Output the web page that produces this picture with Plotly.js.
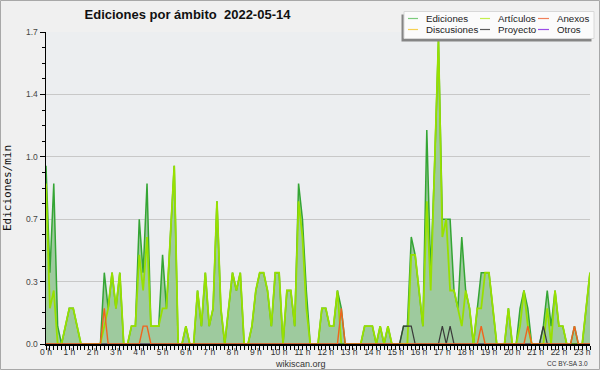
<!DOCTYPE html>
<html>
<head>
<meta charset="utf-8">
<script src="https://cdn.plot.ly/plotly-3.0.1.min.js"></script>
<style>
  html, body { margin: 0; padding: 0; background: #f0f0f0; }
  #chart { width: 600px; height: 370px; }
</style>
</head>
<body>
<div id="chart"></div>
<script>
// Samples every 10 minutes from 00:00 to 23:20 (hours on x axis)
const startHour = 0;
const stepHours = 1 / 6;

const ediciones = [
  1.0, 0.4, 0.9, 0.1, 0, 0.1, 0.2, 0.2, 0.1, 0,
  0, 0, 0, 0, 0, 0.4, 0.2, 0.4, 0.2, 0.4,
  0, 0, 0.1, 0.1, 0.7, 0.4, 0.9, 0.1, 0.1, 0.1,
  0.5, 0.2, 0.6, 1.0, 0, 0, 0.1, 0, 0, 0.3,
  0.1, 0.4, 0.1, 0.2, 0.8, 0.2, 0, 0.2, 0.4, 0.3,
  0.4, 0, 0, 0.1, 0.3, 0.4, 0.4, 0.3, 0.1, 0.4,
  0.4, 0, 0.3, 0.3, 0.1, 0.9, 0.7, 0.3, 0, 0,
  0, 0.2, 0.2, 0.1, 0.1, 0.3, 0.2, 0, 0, 0,
  0, 0, 0.1, 0.1, 0.1, 0, 0.1, 0, 0.1, 0,
  0, 0, 0.1, 0.1, 0.6, 0.5, 0.3, 0.1, 1.2, 0.4,
  1.0, 1.7, 0.7, 0.7, 0.7, 0.3, 0.2, 0.6, 0.3, 0.2,
  0, 0.2, 0.4, 0.4, 0.4, 0.2, 0, 0, 0, 0.2,
  0, 0, 0.2, 0.3, 0.2, 0, 0, 0, 0.1, 0.3,
  0.1, 0.3, 0.1, 0.1, 0, 0, 0.1, 0, 0, 0.2,
  0.4
];

const articulos = [
  0.9, 0.2, 0.3, 0, 0, 0.1, 0.2, 0.2, 0.1, 0,
  0, 0, 0, 0, 0, 0.1, 0.2, 0.4, 0.2, 0.4,
  0, 0, 0.1, 0.1, 0.5, 0.3, 0.6, 0.1, 0.1, 0.1,
  0.2, 0.2, 0.6, 1.0, 0, 0, 0.1, 0, 0, 0.3,
  0.1, 0.4, 0.1, 0.2, 0.8, 0.2, 0, 0.2, 0.4, 0.3,
  0.4, 0, 0, 0.1, 0.3, 0.4, 0.4, 0.3, 0.1, 0.4,
  0.4, 0, 0.3, 0.3, 0.1, 0.8, 0.6, 0.2, 0, 0,
  0, 0.2, 0.2, 0.1, 0.1, 0.3, 0, 0, 0, 0,
  0, 0, 0.1, 0.1, 0.1, 0, 0.1, 0, 0.1, 0,
  0, 0, 0, 0, 0.5, 0.5, 0.3, 0.1, 0.8, 0.3,
  1.0, 1.7, 0.6, 0.7, 0.3, 0.3, 0.2, 0.1, 0.3, 0.2,
  0, 0.2, 0.2, 0.4, 0.4, 0.2, 0, 0, 0, 0.2,
  0, 0, 0.1, 0.3, 0.1, 0, 0, 0, 0, 0.2,
  0, 0.3, 0.1, 0.1, 0, 0, 0, 0, 0, 0.2,
  0.4
];

const anexos = [
  0, 0, 0, 0, 0, 0, 0, 0, 0, 0,
  0, 0, 0, 0, 0, 0.2, 0, 0, 0, 0,
  0, 0, 0, 0, 0, 0.1, 0.1, 0, 0, 0,
  0, 0, 0, 0, 0, 0, 0, 0, 0, 0,
  0, 0, 0, 0, 0, 0, 0, 0, 0, 0,
  0, 0, 0, 0, 0, 0, 0, 0, 0, 0,
  0, 0, 0, 0, 0, 0, 0, 0, 0, 0,
  0, 0, 0, 0, 0, 0, 0.2, 0, 0, 0,
  0, 0, 0, 0, 0, 0, 0, 0, 0, 0,
  0, 0, 0, 0, 0, 0, 0, 0, 0, 0,
  0, 0, 0, 0, 0, 0, 0, 0, 0, 0,
  0, 0, 0.1, 0, 0, 0, 0, 0, 0, 0,
  0, 0, 0, 0, 0.1, 0, 0, 0, 0, 0,
  0, 0, 0, 0, 0, 0, 0.1, 0, 0, 0,
  0
];

const discusiones = [
  0, 0, 0, 0, 0, 0, 0, 0, 0, 0,
  0, 0, 0, 0, 0, 0, 0, 0, 0, 0,
  0, 0, 0, 0, 0, 0, 0, 0, 0, 0,
  0, 0, 0, 0, 0, 0, 0, 0, 0, 0,
  0, 0, 0, 0, 0, 0, 0, 0, 0, 0,
  0, 0, 0, 0, 0, 0, 0, 0, 0, 0,
  0, 0, 0, 0, 0, 0, 0, 0, 0, 0,
  0, 0, 0, 0, 0, 0, 0, 0, 0, 0,
  0, 0, 0, 0, 0, 0, 0, 0, 0, 0,
  0, 0, 0, 0, 0, 0, 0, 0, 0, 0,
  0, 0, 0, 0, 0, 0, 0, 0, 0, 0,
  0, 0, 0, 0, 0, 0, 0, 0, 0, 0,
  0, 0, 0, 0, 0, 0, 0, 0, 0, 0,
  0, 0, 0, 0, 0, 0, 0, 0, 0, 0,
  0
];

const proyecto = [
  0, 0, 0, 0, 0, 0, 0, 0, 0, 0,
  0, 0, 0, 0, 0, 0, 0, 0, 0, 0,
  0, 0, 0, 0, 0, 0, 0, 0, 0, 0,
  0, 0, 0, 0, 0, 0, 0, 0, 0, 0,
  0, 0, 0, 0, 0, 0, 0, 0, 0, 0,
  0, 0, 0, 0, 0, 0, 0, 0, 0, 0,
  0, 0, 0, 0, 0, 0, 0, 0, 0, 0,
  0, 0, 0, 0, 0, 0, 0, 0, 0, 0,
  0, 0, 0, 0, 0, 0, 0, 0, 0, 0,
  0, 0, 0.1, 0.1, 0.1, 0, 0, 0, 0, 0,
  0, 0, 0.1, 0, 0.1, 0, 0, 0, 0, 0,
  0, 0, 0, 0, 0, 0, 0, 0, 0, 0,
  0, 0, 0, 0, 0, 0, 0, 0, 0.1, 0,
  0, 0, 0, 0, 0, 0, 0, 0, 0, 0,
  0
];

const otros = [
  0, 0, 0, 0, 0, 0, 0, 0, 0, 0,
  0, 0, 0, 0, 0, 0, 0, 0, 0, 0,
  0, 0, 0, 0, 0, 0, 0, 0, 0, 0,
  0, 0, 0, 0, 0, 0, 0, 0, 0, 0,
  0, 0, 0, 0, 0, 0, 0, 0, 0, 0,
  0, 0, 0, 0, 0, 0, 0, 0, 0, 0,
  0, 0, 0, 0, 0, 0, 0, 0, 0, 0,
  0, 0, 0, 0, 0, 0, 0, 0, 0, 0,
  0, 0, 0, 0, 0, 0, 0, 0, 0, 0,
  0, 0, 0, 0, 0, 0, 0, 0, 0, 0,
  0, 0, 0, 0, 0, 0, 0, 0, 0, 0,
  0, 0, 0, 0, 0, 0, 0, 0, 0, 0,
  0, 0, 0, 0, 0, 0, 0, 0, 0, 0,
  0, 0, 0, 0, 0, 0, 0, 0, 0, 0,
  0
];

const yTickVals = [0, 0.35, 0.7, 1.05, 1.4, 1.75];
const yTickText = ['0.0', '0.3', '0.7', '1.0', '1.4', '1.7'];

const legendNames = ['Ediciones', 'Artículos', 'Anexos', 'Discusiones', 'Proyecto', 'Otros'];
const legendColors = ['#7ccb7c', '#c4ee4e', '#f0805a', '#f6d052', '#5a5a5a', '#9a4de6'];

// ---- layout helpers (pixel -> paper) ----
const M = {l: 46, r: 10, t: 32, b: 26};
const W = 600, H = 370;
const PW = W - M.l - M.r, PH = H - M.t - M.b;
const px = x => (x - M.l) / PW;
const py = y => (H - M.b - y) / PH;

function line(y, color, width) {
  return {type: 'scatter', mode: 'lines', x0: startHour, dx: stepHours, y: y,
          line: {color: color, width: width, shape: 'linear'}, hoverinfo: 'skip', showlegend: false};
}

const traces = [
  Object.assign(line(ediciones, '#34a534', 1.5), {fill: 'tozeroy', fillcolor: 'rgb(158,202,158)'}),
  line(discusiones, '#f2c200', 1),
  line(otros, '#8a3be0', 1),
  line(articulos, '#98e000', 1.8),
  line(proyecto, '#3a3a3a', 1.2),
  line(anexos, '#f0641e', 1.4)
];

const shapes = [
  // outer frame
  {type: 'rect', xref: 'paper', yref: 'paper', x0: px(0.5), x1: px(599.5), y0: py(369.5), y1: py(0.5),
   line: {color: '#a8a8a8', width: 1}, fillcolor: 'rgba(0,0,0,0)', layer: 'below'},
  // legend shadow & box
  {type: 'rect', xref: 'paper', yref: 'paper', x0: px(401.5), x1: px(591.5), y0: py(41.5), y1: py(14.5),
   line: {width: 0}, fillcolor: '#858585'},
  {type: 'rect', xref: 'paper', yref: 'paper', x0: px(404), x1: px(594), y0: py(38.5), y1: py(11.5),
   line: {color: '#d8d8d8', width: 1}, fillcolor: '#fbfbfb'}
];
const annotations = [
  {text: 'wikiscan.org', xref: 'paper', yref: 'paper', x: px(300), y: py(363.5), xanchor: 'center', yanchor: 'middle',
   showarrow: false, font: {family: 'Liberation Sans', size: 9, color: '#333'}},
  {text: 'CC BY-SA 3.0', xref: 'paper', yref: 'paper', x: px(590), y: py(363.5), xanchor: 'right', yanchor: 'middle',
   showarrow: false, font: {family: 'Liberation Sans', size: 6.5, color: '#333'}}
];
const colX = [[408, 418, 424], [480, 490, 496], [538, 549, 555]];
const rowY = [18.5, 29.5];
legendNames.forEach((name, k) => {
  const c = colX[k % 3], r = rowY[Math.floor(k / 3)];
  shapes.push({type: 'line', xref: 'paper', yref: 'paper', x0: px(c[0]), x1: px(c[1]), y0: py(r), y1: py(r),
               line: {color: legendColors[k], width: 1.2}});
  annotations.push({text: name, xref: 'paper', yref: 'paper', x: px(c[2]), y: py(r), xanchor: 'left', yanchor: 'middle',
                    showarrow: false, font: {family: 'Liberation Sans', size: 9.7, color: '#222'}});
});

const layout = {
  width: W, height: H,
  margin: M,
  paper_bgcolor: '#f0f0f0',
  plot_bgcolor: '#eceef0',
  showlegend: false,
  title: {text: '<b>Ediciones por ámbito\u00a0\u00a02022-05-14</b>', x: 0.3125, xref: 'container', xanchor: 'center',
          y: 1 - 14 / H, yref: 'container', yanchor: 'middle',
          font: {family: 'Liberation Sans', size: 13, color: '#111'}},
  xaxis: {
    range: [0, 23 + 1 / 3], tickmode: 'linear', tick0: 0, dtick: 1, ticksuffix: ' h',
    ticks: 'outside', ticklen: 4, tickwidth: 1, tickcolor: '#000', ticklabelstandoff: -5,
    showline: true, linecolor: '#000', linewidth: 2, showgrid: false, zeroline: false,
    tickfont: {family: 'Liberation Sans', size: 8.5, color: '#333'},
    minor: {tickmode: 'linear', tick0: 0, dtick: 1 / 6, ticks: 'outside', ticklen: 4, tickwidth: 1, tickcolor: '#000', showgrid: false}
  },
  yaxis: {
    range: [0, 1.75], tickmode: 'array', tickvals: yTickVals, ticktext: yTickText,
    ticks: 'outside', ticklen: 5, tickwidth: 1, tickcolor: '#000',
    showline: true, linecolor: '#000', linewidth: 1.5, showgrid: true, gridcolor: '#c8c8c8', gridwidth: 1, zeroline: false,
    tickfont: {family: 'Liberation Sans', size: 8.5, color: '#444'},
    minor: {tickmode: 'linear', tick0: 0, dtick: 0.0875, ticks: 'outside', ticklen: 3, tickwidth: 1, tickcolor: '#000', showgrid: false},
    title: {text: 'Ediciones/min', standoff: 12, font: {family: 'DejaVu Sans Mono', size: 11, color: '#111'}}
  },
  shapes: shapes,
  annotations: annotations
};

Plotly.newPlot('chart', traces, layout, {staticPlot: true, displayModeBar: false});
</script>
</body>
</html>
